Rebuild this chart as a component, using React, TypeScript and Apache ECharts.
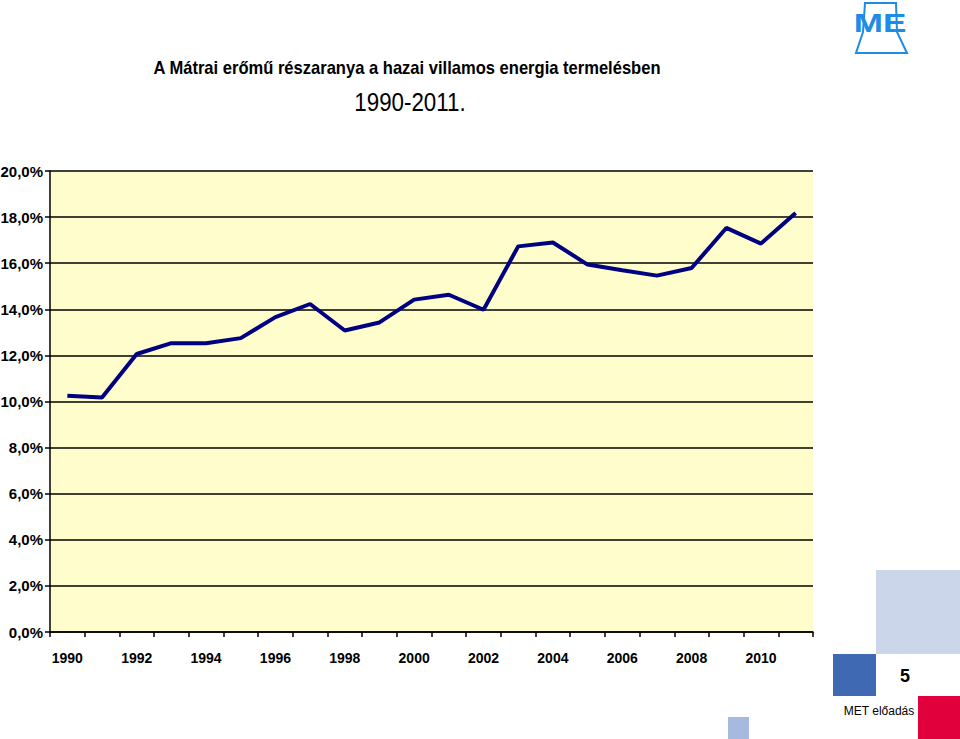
import React, { useEffect, useRef } from "react";
import * as echarts from "echarts";

const years = ["1990","1991","1992","1993","1994","1995","1996","1997","1998","1999","2000","2001","2002","2003","2004","2005","2006","2007","2008","2009","2010","2011"];
const share = [10.25, 10.17, 12.06, 12.53, 12.53, 12.75, 13.66, 14.23, 13.08, 13.43, 14.42, 14.63, 13.98, 16.73, 16.9, 15.94, 15.69, 15.46, 15.79, 17.53, 16.85, 18.18];
const titleText = "A Mátrai erőmű részaranya a hazai villamos energia termelésben";
const subtitleText = "1990-2011.";
const pageNumber = "5";
const footerText = "MET előadás";

const SANS = "'Liberation Sans', Arial, sans-serif";

export default function App() {
  const ref = useRef<HTMLDivElement>(null);
  useEffect(() => {
    const chart = echarts.init(ref.current!, null, { renderer: "svg" });
    chart.setOption({
      animation: false,
      backgroundColor: "#ffffff",
      grid: { left: 50, right: 147, top: 171, bottom: 107, show: true, backgroundColor: "#FFFDCB", borderWidth: 0, containLabel: false, outerBoundsMode: "none" },
      xAxis: {
        type: "category",
        data: years,
        boundaryGap: true,
        axisLine: { show: true, lineStyle: { color: "#000", width: 1.5 } },
        axisTick: { show: true, interval: 0, length: 5, lineStyle: { color: "#000", width: 1.5 } },
        axisLabel: { interval: 1, color: "#000", fontSize: 14, fontWeight: "bold", fontFamily: SANS, margin: 19 },
        splitLine: { show: false },
      },
      yAxis: {
        type: "value",
        min: 0,
        max: 20,
        interval: 2,
        axisLine: { show: true, lineStyle: { color: "#000", width: 1.5 } },
        axisTick: { show: true, length: 5, lineStyle: { color: "#000", width: 1.5 } },
        axisLabel: {
          color: "#000", fontSize: 15, fontWeight: "bold", fontFamily: SANS, margin: 7,
          formatter: (v: number) => v.toFixed(1).replace(".", ",") + "%",
        },
        splitLine: { show: true, lineStyle: { color: "#000", width: 1.5 } },
      },
      series: [
        {
          type: "line",
          data: share,
          symbol: "none",
          lineStyle: { color: "#000080", width: 4 },
          z: 5,
        },
      ],
      graphic: [
        { type: "text", x: 407, y: 68, scaleX: 0.92, style: { text: titleText, fill: "#000", font: "bold 18px " + SANS, align: "center", verticalAlign: "middle" } },
        { type: "text", x: 410, y: 102, scaleX: 0.86, style: { text: subtitleText, fill: "#000", font: "26px " + SANS, align: "center", verticalAlign: "middle" } },
        // logo
        { type: "polygon", shape: { points: [[865, 3], [896, 3], [897, 32], [907, 53], [856, 53], [863, 32]] }, style: { fill: "#fff", stroke: "#1E8CE6", lineWidth: 2 } },
        { type: "text", x: 880, y: 23, scaleX: 1.35, style: { text: "ME", fill: "#1E8CE6", font: "bold 26px " + SANS, align: "center", verticalAlign: "middle" } },
        // decorations
        { type: "rect", shape: { x: 876, y: 570, width: 84, height: 84 }, style: { fill: "#CBD6EA" } },
        { type: "rect", shape: { x: 833, y: 654, width: 43, height: 42 }, style: { fill: "#3F69B3" } },
        { type: "rect", shape: { x: 918, y: 696, width: 42, height: 43 }, style: { fill: "#E2003C" } },
        { type: "rect", shape: { x: 728, y: 717, width: 21, height: 22 }, style: { fill: "#A6B9DE" } },
        { type: "text", x: 905, y: 676, style: { text: pageNumber, fill: "#000", font: "bold 18px " + SANS, align: "center", verticalAlign: "middle" } },
        { type: "text", x: 879, y: 711, style: { text: footerText, fill: "#000", font: "12px " + SANS, align: "center", verticalAlign: "middle" } },
      ],
    });
    return () => chart.dispose();
  }, []);
  return <div ref={ref} style={{ position: "absolute", left: 0, top: 0, width: 960, height: 739 }} />;
}
